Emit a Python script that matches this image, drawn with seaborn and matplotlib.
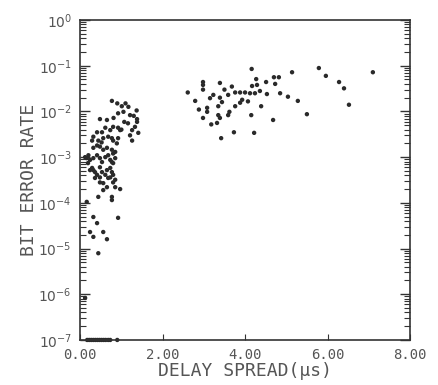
import matplotlib
matplotlib.use('Agg')
from matplotlib import pyplot as plt
from matplotlib.ticker import LogLocator, NullFormatter
import pandas as pd
import seaborn as sns

# delay spread (us) and bit error rate
short_delay = [0.77, 0.90, 1.01, 1.17, 1.37, 0.92, 1.05, 1.21, 0.48, 0.65,
               0.81, 1.07, 1.38, 1.38, 1.33, 1.26, 1.41, 1.16, 1.21, 1.26,
               0.97, 0.92, 0.80, 0.73, 0.61, 0.53, 0.41, 0.32, 0.29, 0.44,
               0.52, 0.56, 0.68, 0.77, 0.80, 0.89, 0.92, 0.32, 0.41, 0.48,
               0.56, 0.65, 0.77, 0.85, 0.20, 0.16, 0.24, 0.32, 0.41, 0.48,
               0.53, 0.61, 0.68, 0.73, 0.80, 0.85, 0.77, 0.29, 0.32, 0.36,
               0.48, 0.53, 0.65, 0.73, 0.77, 0.80, 0.41, 0.48, 0.61, 0.73,
               0.80, 0.48, 0.56, 0.68, 0.80, 0.85, 0.36, 0.65, 0.56, 0.85,
               0.97, 0.44, 0.77, 0.77, 0.16, 0.92, 0.32, 0.41, 0.24, 0.56,
               0.32, 0.65, 0.44, 0.12, 0.12, 0.19, 0.24, 1.10, 1.30, 1.00]
short_ber = [1.7e-2, 1.5e-2, 1.3e-2, 1.26e-2, 1.05e-2, 9.1e-3, 9.8e-3, 8.3e-3, 6.8e-3, 6.5e-3,
             7.2e-3, 5.9e-3, 6.8e-3, 5.9e-3, 4.6e-3, 3.9e-3, 3.4e-3, 5.5e-3, 3.0e-3, 2.3e-3,
             3.9e-3, 4.4e-3, 4.6e-3, 3.9e-3, 4.4e-3, 3.5e-3, 3.5e-3, 2.8e-3, 2.3e-3, 2.3e-3,
             2.1e-3, 2.6e-3, 2.8e-3, 2.6e-3, 2.3e-3, 2.0e-3, 2.6e-3, 1.6e-3, 1.8e-3, 1.7e-3,
             1.45e-3, 1.6e-3, 1.45e-3, 1.3e-3, 1.1e-3, 9.5e-4, 8.7e-4, 9.5e-4, 1.1e-3, 9.5e-4,
             7.8e-4, 1.0e-3, 1.1e-3, 8.7e-4, 1.2e-3, 9.5e-4, 7.8e-4, 5.8e-4, 5.2e-4, 4.7e-4,
             6.0e-4, 4.7e-4, 5.2e-4, 5.8e-4, 4.7e-4, 7.4e-4, 4.1e-4, 3.6e-4, 4.1e-4, 3.6e-4,
             4.1e-4, 2.8e-4, 2.7e-4, 3.5e-4, 2.8e-4, 3.2e-4, 3.5e-4, 2.2e-4, 1.9e-4, 2.2e-4,
             2.0e-4, 1.35e-4, 1.35e-4, 1.15e-4, 1.05e-4, 4.7e-5, 4.9e-5, 3.6e-5, 2.3e-5, 2.3e-5,
             1.8e-5, 1.6e-5, 7.9e-6, 8.3e-7, 1.0e-3, 7.4e-4, 5.2e-4, 1.5e-2, 8.0e-3, 4.0e-3]
long_delay = [2.61, 4.16, 2.79, 2.98, 3.39, 2.98, 2.88, 2.98, 3.08, 3.18,
              3.32, 3.42, 3.73, 4.22, 4.68, 4.39, 4.15, 4.27, 4.51, 4.70,
              4.82, 4.73, 5.14, 5.79, 5.96, 6.28, 6.40, 6.52, 7.10, 5.04,
              5.28, 5.50, 4.85, 4.53, 4.36, 4.24, 4.12, 4.17, 4.29, 4.07,
              3.88, 3.93, 3.76, 3.62, 3.59, 3.68, 3.76, 3.88, 4.00, 3.39,
              3.44, 3.35, 3.15, 3.23, 3.08, 3.35, 3.39, 3.59, 2.98, 3.50]
long_ber = [2.6e-2, 8.5e-2, 1.7e-2, 4.4e-2, 4.2e-2, 3.0e-2, 1.1e-2, 7.2e-3, 9.8e-3, 5.2e-3,
            5.6e-3, 2.6e-3, 3.5e-3, 3.4e-3, 6.5e-3, 1.3e-2, 8.3e-3, 5.1e-2, 4.4e-2, 5.6e-2,
            5.6e-2, 4.0e-2, 7.2e-2, 8.9e-2, 6.0e-2, 4.4e-2, 3.2e-2, 1.4e-2, 7.2e-2, 2.1e-2,
            1.7e-2, 8.7e-3, 2.5e-2, 2.4e-2, 2.8e-2, 2.5e-2, 2.5e-2, 3.6e-2, 3.8e-2, 1.66e-2,
            1.55e-2, 1.8e-2, 1.3e-2, 9.8e-3, 2.3e-2, 3.5e-2, 2.6e-2, 2.6e-2, 2.6e-2, 2.0e-2,
            1.6e-2, 1.3e-2, 1.95e-2, 2.3e-2, 1.2e-2, 8.3e-3, 7.2e-3, 8.3e-3, 3.8e-2, 3.0e-2]
# error free runs, plotted on the 1e-7 floor
zero_delay = [0.17, 0.22, 0.27, 0.32, 0.37, 0.42, 0.47, 0.52, 0.57, 0.62, 0.68, 0.73, 0.90]
zero_ber = [1e-7] * len(zero_delay)

df = pd.DataFrame({'delay': short_delay + long_delay + zero_delay,
                   'ber': short_ber + long_ber + zero_ber})

sns.set_style('white')
fig = plt.figure(figsize=(4.38, 3.85), dpi=100)
ax = fig.add_axes([0.183, 0.117, 0.753, 0.831])
sns.scatterplot(data=df, x='delay', y='ber', ax=ax, s=10, color='#2a2a2a',
                edgecolor='none', clip_on=False)
ax.set_yscale('log')
ax.set_xlim(0, 8)
ax.set_ylim(1e-7, 1)

grey = '#555555'
mono = 'DejaVu Sans Mono'
ax.set_xticks([0, 2, 4, 6, 8])
ax.set_xticklabels(['0.00', '2.00', '4.00', '6.00', '8.00'], family=mono,
                   fontsize=10, color=grey)
ax.set_yticks([10.0 ** e for e in range(-7, 1)])
ax.set_yticklabels([r'$10^{%d}$' % e for e in range(-7, 1)], fontsize=10, color=grey)
ax.yaxis.set_minor_locator(LogLocator(base=10, subs=range(2, 10), numticks=20))
ax.yaxis.set_minor_formatter(NullFormatter())
ax.tick_params(axis='y', which='both', direction='in', left=True, right=True, color='#333333')
ax.tick_params(axis='y', which='major', length=7, width=1)
ax.tick_params(axis='y', which='minor', length=4, width=0.8)
ax.tick_params(axis='x', direction='in', length=4, bottom=True, top=False, color='#333333')
ax.tick_params(axis='both', pad=6)
for sp in ax.spines.values():
    sp.set_color('#333333')
    sp.set_linewidth(1.2)

ax.set_xlabel('DELAY SPREAD(µs)', family=mono, fontsize=13, color=grey, labelpad=0)
ax.set_ylabel('BIT ERROR RATE', family=mono, fontsize=13, color=grey, labelpad=0)

fig.savefig('out.png', dpi=100)
